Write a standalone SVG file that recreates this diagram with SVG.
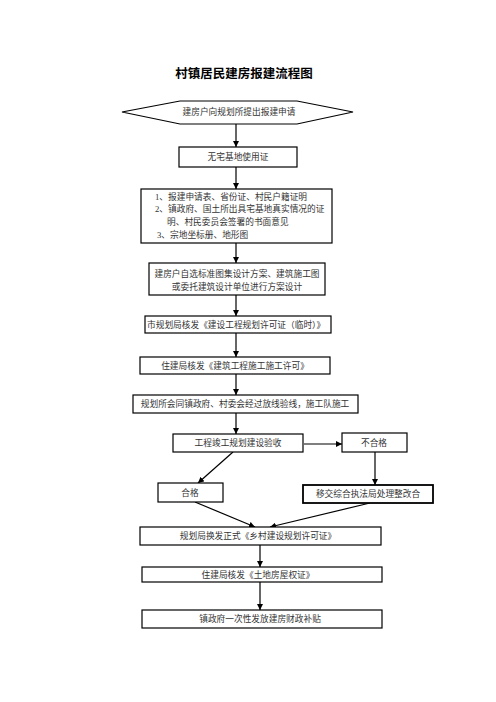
<svg xmlns="http://www.w3.org/2000/svg" width="496" height="702" viewBox="0 0 496 702">
<defs>
<marker id="ah" viewBox="0 0 10 10" refX="10" refY="5" markerWidth="6" markerHeight="6" orient="auto" markerUnits="userSpaceOnUse">
<path d="M0,0 L10,5 L0,10 z" fill="#000"/>
</marker>
</defs>
<style>
.b{fill:#fff;stroke:#000;stroke-width:1.2}
.t{font-family:"Liberation Serif","Noto Sans CJK SC",serif;font-size:8.7px;fill:#333}
.c{text-anchor:middle}
.ttl{font-family:"Liberation Sans","Noto Sans CJK SC",sans-serif;font-size:12.5px;font-weight:bold;fill:#000;text-anchor:middle}
.e{stroke:#000;stroke-width:1.2;fill:none;marker-end:url(#ah)}
</style>
<rect width="496" height="702" fill="#fff"/>
<text class="ttl" x="244" y="78">村镇居民建房报建流程图</text>
<g id="connectors">
<line class="e" x1="236" y1="124" x2="236" y2="147"/>
<line class="e" x1="236" y1="167" x2="236" y2="189"/>
<line class="e" x1="236" y1="243" x2="236" y2="263"/>
<line class="e" x1="236" y1="295" x2="236" y2="316"/>
<line class="e" x1="236" y1="333" x2="236" y2="357"/>
<line class="e" x1="236" y1="374" x2="236" y2="395"/>
<line class="e" x1="236" y1="413" x2="236" y2="434"/>
<line class="e" x1="304" y1="444" x2="342" y2="444"/>
<line class="e" x1="375" y1="452" x2="375" y2="485"/>
<line class="e" x1="233" y1="452" x2="198" y2="483"/>
<line class="e" x1="195" y1="502" x2="255" y2="527"/>
<line class="e" x1="370" y1="503" x2="270" y2="527"/>
<line class="e" x1="260" y1="545" x2="260" y2="567"/>
<line class="e" x1="260" y1="582" x2="260" y2="610"/>
</g>
<g id="n1"><polygon class="b" points="122,112 180,101 297,101 353,112 297,124 180,124"/><text class="t c" x="239" y="115">建房户向规划所提出报建申请</text></g>
<g id="n2"><rect class="b" x="179" y="147" width="118" height="20"/><text class="t c" x="238" y="160">无宅基地使用证</text></g>
<g id="n3"><rect class="b" x="141" y="189" width="191" height="54"/>
<text class="t" x="155" y="200">1、报建申请表、省份证、村民户籍证明</text>
<text class="t" x="155" y="212">2、镇政府、国土所出具宅基地真实情况的证</text>
<text class="t" x="167" y="225">明、村民委员会签署的书面意见</text>
<text class="t" x="157" y="238">3、宗地坐标册、地形图</text></g>
<g id="n4"><rect class="b" x="149" y="263" width="176" height="32"/>
<text class="t c" x="237" y="277">建房户自选标准图集设计方案、建筑施工图</text>
<text class="t c" x="237" y="290">或委托建筑设计单位进行方案设计</text></g>
<g id="n5"><rect class="b" x="145" y="316" width="186" height="17"/><text class="t" x="147" y="328">市规划局核发《建设工程规划许可证（临时）》</text></g>
<g id="n6"><rect class="b" x="140" y="357" width="190" height="17"/><text class="t c" x="235" y="369">住建局核发《建筑工程施工施工许可》</text></g>
<g id="n7"><rect class="b" x="133" y="395" width="225" height="18"/><text class="t c" x="245" y="407">规划所会同镇政府、村委会经过放线验线，施工队施工</text></g>
<g id="n8"><rect class="b" x="173" y="434" width="130" height="18"/><text class="t c" x="238" y="446">工程竣工规划建设验收</text></g>
<g id="n9"><rect class="b" x="342" y="433" width="65" height="19"/><text class="t c" x="374" y="446">不合格</text></g>
<g id="n10"><rect class="b" x="158" y="483" width="65" height="19"/><text class="t c" x="190" y="496">合格</text></g>
<g id="n11"><rect class="b" x="303" y="485" width="130" height="18" style="stroke-width:1.8"/><text class="t c" x="368" y="497">移交综合执法局处理整改合</text></g>
<g id="n12"><rect class="b" x="140" y="527" width="241" height="18"/><text class="t c" x="258" y="539">规划局换发正式《乡村建设规划许可证》</text></g>
<g id="n13"><rect class="b" x="142" y="567" width="240" height="15"/><text class="t c" x="258" y="578">住建局核发《土地房屋权证》</text></g>
<g id="n14"><rect class="b" x="142" y="610" width="240" height="18"/><text class="t c" x="260" y="622">镇政府一次性发放建房财政补贴</text></g>
</svg>
